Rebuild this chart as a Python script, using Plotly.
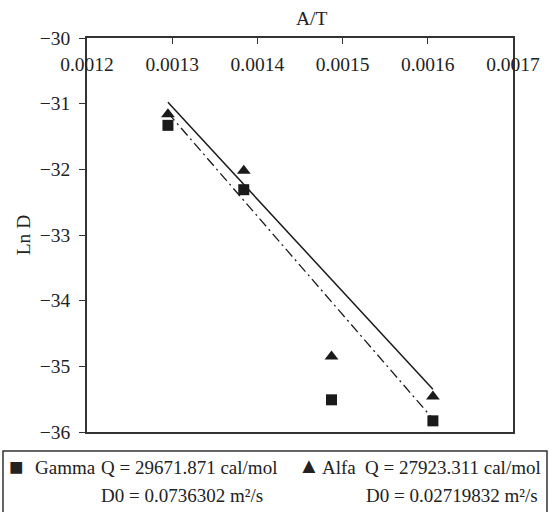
import plotly.graph_objects as go

# Data
inv_T = [0.001295, 0.001384, 0.001487, 0.001606]
gamma_lnD = [-31.33, -32.31, -35.51, -35.83]
alfa_lnD = [-31.16, -32.02, -34.85, -35.46]

fit_x = [0.001295, 0.001606]
gamma_fit = [-31.14, -35.80]
alfa_fit = [-30.98, -35.35]

x_ticks = [0.0012, 0.0013, 0.0014, 0.0015, 0.0016, 0.0017]
y_ticks = [-36, -35, -34, -33, -32, -31, -30]

gamma_text = ["Q = 29671.871 cal/mol", "D0 = 0.0736302 m²/s"]
alfa_text = ["Q = 27923.311 cal/mol", "D0 = 0.02719832 m²/s"]

FONT = "Liberation Serif"
FS = 19.5
LFS = 19
INK = "#1a1a1a"
TXT = "#222"
L, R, T, B = 87, 513, 38, 432
W, H = 550, 512


def px(x):
    return (x - L) / (R - L)


def py(y):
    return (B - y) / (B - T)


fig = go.Figure()
fig.add_trace(go.Scatter(x=fit_x, y=alfa_fit, mode="lines",
                         line=dict(color=INK, width=1.5), showlegend=False))
fig.add_trace(go.Scatter(x=fit_x, y=gamma_fit, mode="lines",
                         line=dict(color=INK, width=1.3, dash="10px,4px,2px,4px"),
                         showlegend=False))
fig.add_trace(go.Scatter(x=inv_T, y=gamma_lnD, mode="markers", name="Gamma",
                         marker=dict(symbol="square", size=11, color=INK),
                         showlegend=False))
fig.add_trace(go.Scatter(x=inv_T, y=alfa_lnD, mode="markers", name="Alfa",
                         marker=dict(symbol="triangle-up", size=12, color=INK),
                         showlegend=False))

fig.update_layout(
    width=W, height=H,
    margin=dict(l=L, r=W - R, t=T, b=H - B, pad=0, autoexpand=False),
    paper_bgcolor="white", plot_bgcolor="white",
    font=dict(family=FONT, size=FS, color=TXT),
    xaxis=dict(range=[0.0012, 0.0017], tickvals=x_ticks,
               ticktext=[f"{v:.4f}" for v in x_ticks],
               side="top", ticks="inside", ticklen=6, tickcolor="#333",
               ticklabelposition="inside", ticklabeloverflow="allow",
               ticklabelstandoff=15, automargin=False,
               showline=True, linecolor="#333", linewidth=1.5, mirror=True,
               showgrid=False, zeroline=False,
               tickfont=dict(family=FONT, size=FS, color=TXT)),
    yaxis=dict(range=[-36, -30], tickvals=y_ticks,
               ticks="outside", ticklen=6, tickcolor="#333",
               ticklabelstandoff=5, automargin=False,
               showline=True, linecolor="#333", linewidth=1.5, mirror=True,
               showgrid=False, zeroline=False,
               title=dict(text="Ln D", standoff=4,
                          font=dict(family=FONT, size=FS, color=TXT)),
               tickfont=dict(family=FONT, size=FS, color=TXT)),
)

ann = []
ann.append(dict(text="A/T", x=px(312), y=py(18), xref="paper", yref="paper",
                showarrow=False, xanchor="center", yanchor="middle"))
# legend box contents
items = [
    ("■", 7, 467, 24), ("Gamma", 33, 467, LFS), (gamma_text[0], 99, 467, LFS),
    (gamma_text[1], 99, 495, LFS),
    ("▲", 296, 466, 22), ("Alfa", 320, 467, LFS), (alfa_text[0], 363, 467, LFS),
    (alfa_text[1], 364, 495, LFS),
]
for txt, x0, y0, fs in items:
    ann.append(dict(text=txt, x=px(x0), y=py(y0), xref="paper", yref="paper",
                    showarrow=False, xanchor="left", yanchor="middle",
                    font=dict(family=FONT, size=fs, color=TXT)))
fig.update_layout(annotations=ann)

fig.add_shape(type="rect", xref="paper", yref="paper",
              x0=px(3), x1=px(547), y0=py(451), y1=py(525),
              line=dict(color="#333", width=1.5), fillcolor="rgba(0,0,0,0)")

fig.write_html("out.html", config={"displayModeBar": False},
               post_script="document.body.style.margin='0';document.body.style.overflow='hidden';")
